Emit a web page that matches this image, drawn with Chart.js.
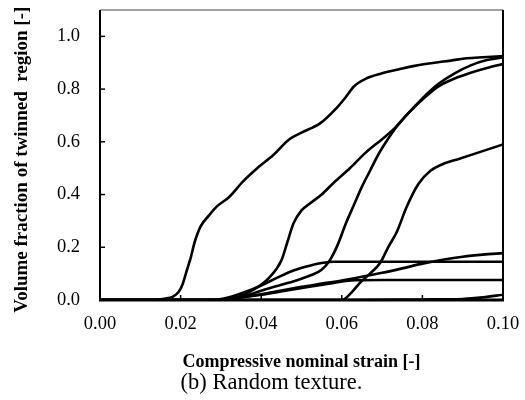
<!DOCTYPE html>
<html>
<head>
<meta charset="utf-8">
<script src="https://cdn.jsdelivr.net/npm/chart.js@4.4.1/dist/chart.umd.min.js"></script>
<style>
html,body{margin:0;padding:0;background:#fff;}
#wrap{width:525px;height:400px;}
</style>
</head>
<body>
<div id="wrap"><canvas id="twinChart" width="525" height="400"></canvas></div>
<script>
// tick labels
const strainTicks = [0, 0.02, 0.04, 0.06, 0.08, 0.10];
const fracTicks = [0, 0.2, 0.4, 0.6, 0.8, 1.0];

// curves (strain / volume fraction)
const curveAStrain = [0, 0.013, 0.016, 0.018, 0.0195, 0.0205, 0.0215, 0.0225, 0.0235, 0.025, 0.027, 0.029, 0.032, 0.0355, 0.039, 0.043, 0.047, 0.050, 0.0546, 0.0588, 0.061, 0.063, 0.066, 0.070, 0.0744, 0.078, 0.083, 0.087, 0.091, 0.095, 0.1];
const curveAFrac = [0, 0, 0.005, 0.012, 0.03, 0.06, 0.11, 0.16, 0.22, 0.28, 0.32, 0.355, 0.39, 0.45, 0.50, 0.55, 0.61, 0.635, 0.67, 0.73, 0.77, 0.81, 0.84, 0.86, 0.876, 0.888, 0.90, 0.908, 0.917, 0.921, 0.925];

const curveBStrain = [0, 0.030, 0.034, 0.038, 0.042, 0.045, 0.0465, 0.048, 0.050, 0.052, 0.055, 0.058, 0.062, 0.066, 0.070, 0.073, 0.076, 0.080, 0.084, 0.088, 0.092, 0.096, 0.1];
const curveBFrac = [0, 0, 0.01, 0.038, 0.085, 0.15, 0.22, 0.29, 0.34, 0.365, 0.40, 0.445, 0.50, 0.56, 0.61, 0.65, 0.70, 0.76, 0.81, 0.84, 0.862, 0.88, 0.895];

const curveCStrain = [0, 0.030, 0.034, 0.038, 0.042, 0.047, 0.052, 0.055, 0.057, 0.059, 0.061, 0.063, 0.065, 0.067, 0.069, 0.071, 0.073, 0.076, 0.080, 0.084, 0.088, 0.092, 0.096, 0.1];
const curveCFrac = [0, 0, 0.008, 0.025, 0.045, 0.066, 0.092, 0.115, 0.15, 0.21, 0.29, 0.36, 0.43, 0.49, 0.55, 0.60, 0.645, 0.70, 0.765, 0.82, 0.86, 0.89, 0.91, 0.92];

const curveDStrain = [0, 0.060, 0.0625, 0.0645, 0.067, 0.0695, 0.0715, 0.0737, 0.076, 0.079, 0.082, 0.085, 0.089, 0.094, 0.1];
const curveDFrac = [0, 0, 0.03, 0.065, 0.10, 0.14, 0.20, 0.26, 0.35, 0.44, 0.49, 0.515, 0.535, 0.56, 0.59];

const curveEStrain = [0, 0.028, 0.032, 0.036, 0.040, 0.044, 0.048, 0.052, 0.055, 0.058, 0.070, 0.085, 0.1];
const curveEFrac = [0, 0, 0.01, 0.03, 0.055, 0.085, 0.112, 0.13, 0.14, 0.145, 0.145, 0.145, 0.145];

const curveFStrain = [0, 0.028, 0.034, 0.040, 0.046, 0.052, 0.058, 0.063, 0.070, 0.085, 0.1];
const curveFFrac = [0, 0, 0.008, 0.02, 0.035, 0.05, 0.065, 0.075, 0.076, 0.076, 0.076];

const curveGStrain = [0, 0.060, 0.080, 0.090, 0.095, 0.1];
const curveGFrac = [0, 0, 0.002, 0.004, 0.01, 0.02];

const curveHStrain = [0, 0.028, 0.035, 0.040, 0.045, 0.050, 0.055, 0.060, 0.065, 0.070, 0.075, 0.080, 0.085, 0.090, 0.095, 0.1];
const curveHFrac = [0, 0, 0.01, 0.022, 0.036, 0.05, 0.062, 0.074, 0.088, 0.103, 0.12, 0.138, 0.153, 0.164, 0.172, 0.178];

const curves = [
  [curveAStrain, curveAFrac], [curveBStrain, curveBFrac], [curveCStrain, curveCFrac],
  [curveDStrain, curveDFrac], [curveEStrain, curveEFrac], [curveFStrain, curveFFrac],
  [curveGStrain, curveGFrac], [curveHStrain, curveHFrac]
];

const serif = "'Liberation Serif', 'Times New Roman', serif";

// box round the plot + inward tick marks
const frame = {
  id: 'frame',
  afterDraw(chart){
    const {ctx, chartArea:a, scales} = chart;
    ctx.save();
    ctx.lineWidth = 1;
    ctx.strokeStyle = '#444';
    ctx.beginPath(); ctx.moveTo(a.left, a.top); ctx.lineTo(a.right, a.top); ctx.stroke();
    ctx.strokeStyle = '#000';
    ctx.lineWidth = 2;
    ctx.beginPath(); ctx.moveTo(a.left, a.top); ctx.lineTo(a.left, a.bottom); ctx.stroke();
    ctx.beginPath(); ctx.moveTo(a.right, a.top); ctx.lineTo(a.right, a.bottom); ctx.stroke();
    ctx.lineWidth = 3;
    ctx.beginPath(); ctx.moveTo(a.left - 1, a.bottom); ctx.lineTo(a.right + 1, a.bottom); ctx.stroke();
    ctx.lineWidth = 1.5;
    fracTicks.forEach(v => {
      const y = scales.y.getPixelForValue(v);
      ctx.beginPath(); ctx.moveTo(a.left, y); ctx.lineTo(a.left + 5, y); ctx.stroke();
    });
    strainTicks.forEach(v => {
      const x = scales.x.getPixelForValue(v);
      ctx.beginPath(); ctx.moveTo(x, a.bottom); ctx.lineTo(x, a.bottom - 5); ctx.stroke();
    });
    ctx.restore();
  }
};

new Chart(document.getElementById('twinChart'), {
  type: 'line',
  data: {
    datasets: curves.map(c => ({
      data: c[0].map((s, i) => ({x: s, y: c[1][i]})),
      borderColor: '#000',
      borderWidth: 2.6,
      pointRadius: 0,
      fill: false,
      cubicInterpolationMode: 'monotone'
    }))
  },
  options: {
    responsive: false,
    animation: false,
    layout: {padding: {top: 10, right: 22, left: 40, bottom: 0}},
    plugins: {
      legend: {display: false},
      tooltip: {enabled: false},
      title: {
        display: true, position: 'bottom',
        text: '(b) Random texture.',
        color: '#000',
        font: {family: serif, size: 22.5, weight: 'normal', lineHeight: 1.0},
        padding: {top: 0, bottom: 5.25}
      }
    },
    scales: {
      x: {
        type: 'linear', min: 0, max: 0.1,
        grid: {display: false, drawTicks: true, tickLength: 13},
        border: {display: false},
        afterFit(s){ s.height = 72.25; },
        afterBuildTicks(s){ s.ticks = strainTicks.map(v => ({value: v})); },
        ticks: {
          color: '#000', padding: 0,
          font: {family: serif, size: 18.5},
          maxRotation: 0,
          callback: v => v.toFixed(2)
        },
        title: {
          display: true,
          text: 'Compressive nominal strain [-]',
          color: '#000',
          font: {family: serif, size: 18, weight: 'bold', lineHeight: 1.0},
          padding: {top: 0, bottom: 0.75}
        }
      },
      y: {
        min: 0, max: 1.1,
        grid: {display: false, drawTicks: true, tickLength: 20},
        border: {display: false},
        afterFit(s){ s.width = 60; },
        afterBuildTicks(s){ s.ticks = fracTicks.map(v => ({value: v})); },
        ticks: {
          color: '#000', padding: 0,
          font: {family: serif, size: 18.5, lineHeight: 1.0},
          callback: v => v.toFixed(1)
        },
        title: {
          display: true,
          text: 'Volume fraction of twinned  region [-]  ',
          color: '#000',
          font: {family: serif, size: 19, weight: 'bold', lineHeight: 1.0},
          padding: {top: -27.5, bottom: 0}
        }
      }
    }
  },
  plugins: [frame]
});
</script>
</body>
</html>
